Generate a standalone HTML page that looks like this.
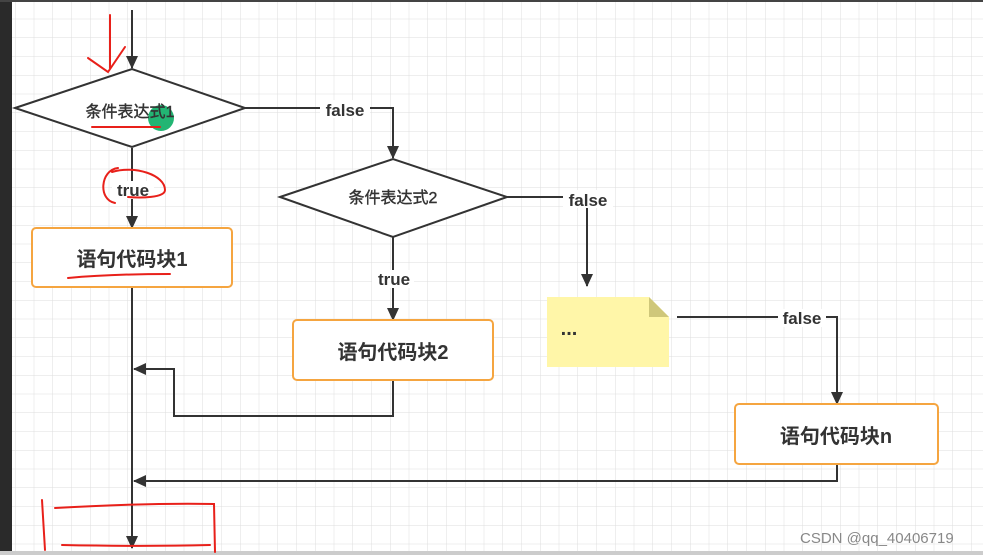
<!DOCTYPE html>
<html><head><meta charset="utf-8"><style>
html,body{margin:0;padding:0;background:#fff;}
svg{display:block;}
text{font-family:"Liberation Sans","Noto Sans CJK SC",sans-serif;}
</style></head><body>
<svg width="983" height="555" viewBox="0 0 983 555" xmlns="http://www.w3.org/2000/svg">
<defs>
<pattern id="g" width="18.75" height="18.75" patternUnits="userSpaceOnUse" x="15" y="0">
<path d="M0 0H18.75M0 0V18.75" stroke="#dedede" stroke-width="1" fill="none"/>
</pattern>
<marker id="a" markerWidth="14" markerHeight="14" refX="12" refY="6" orient="auto" markerUnits="userSpaceOnUse">
<path d="M0 0L13 6L0 12Z" fill="#333"/>
</marker>
</defs>
<rect width="983" height="555" fill="#fff"/>
<rect x="12" y="0" width="971" height="552" fill="url(#g)"/>
<rect x="0" y="0" width="12" height="555" fill="#2a2a2a"/>
<rect x="0" y="0" width="983" height="2" fill="#444"/>
<rect x="0" y="551" width="983" height="4" fill="#ccc"/>
<g stroke="#333" stroke-width="2" fill="none">
<path d="M132 10V68" marker-end="url(#a)"/>
<path d="M132 148V228" marker-end="url(#a)"/>
<path d="M245 108H393V158" marker-end="url(#a)"/>
<path d="M393 237V320" marker-end="url(#a)"/>
<path d="M507 197H587V286" marker-end="url(#a)"/>
<path d="M677 317H837V404" marker-end="url(#a)"/>
<path d="M132 287V548" marker-end="url(#a)"/>
<path d="M393 380V416H174V369H134" marker-end="url(#a)"/>
<path d="M837 464V481H134" marker-end="url(#a)"/>
</g>
<polygon points="15,108 132,69 245,108 132,147" fill="#fff" stroke="#333" stroke-width="2"/>
<polygon points="280,197 393,159 507,197 393,237" fill="#fff" stroke="#333" stroke-width="2"/>
<rect x="32" y="228" width="200" height="59" rx="4" fill="#fff" stroke="#f5a540" stroke-width="2"/>
<rect x="293" y="320" width="200" height="60" rx="4" fill="#fff" stroke="#f5a540" stroke-width="2"/>
<rect x="735" y="404" width="203" height="60" rx="4" fill="#fff" stroke="#f5a540" stroke-width="2"/>
<path d="M547 297H649L669 317V367H547Z" fill="#fff6a8"/>
<path d="M649 297L669 317H649Z" fill="#cfc77a"/>
<circle cx="161" cy="118" r="13" fill="#22b573"/>
<g fill="#333" text-anchor="middle">
<text x="130" y="117" font-size="16" stroke="#333" stroke-width="0.4">条件表达式1</text>
<text x="393" y="203" font-size="16" stroke="#333" stroke-width="0.4">条件表达式2</text>
<text x="132" y="266" font-size="20" font-weight="bold">语句代码块1</text>
<text x="393" y="359" font-size="20" font-weight="bold">语句代码块2</text>
<text x="836" y="443" font-size="20" font-weight="bold">语句代码块n</text>
</g>
<g font-weight="bold" fill="#333" font-size="17" text-anchor="middle">
<rect x="320" y="100" width="50" height="18" fill="#fff"/><text x="345" y="116">false</text>
<rect x="112" y="181" width="42" height="18" fill="#fff"/><text x="133" y="196">true</text>
<rect x="372" y="270" width="42" height="18" fill="#fff"/><text x="394" y="285">true</text>
<rect x="563" y="190" width="50" height="18" fill="#fff"/><text x="588" y="206">false</text>
<rect x="778" y="309" width="48" height="18" fill="#fff"/><text x="802" y="324">false</text>
<text x="569" y="335" font-size="20">...</text>
</g>
<g stroke="#e8201a" stroke-width="2" fill="none" stroke-linecap="round">
<path d="M110 15V68"/><path d="M88 58L108 72L125 47"/>
<path d="M92 127H160"/>
<path d="M118 168C100 170 98 200 115 203M112 172C135 165 165 175 165 190C165 198 140 198 128 197"/>
<path d="M68 278C100 275 140 274 170 274"/>
<path d="M42 500L45 550M55 508C110 505 170 503 214 504L215 552M62 545C110 546 170 546 210 545"/>
</g>
<text x="800" y="543" font-size="15" fill="#888">CSDN @qq_40406719</text>
</svg>
</body></html>
